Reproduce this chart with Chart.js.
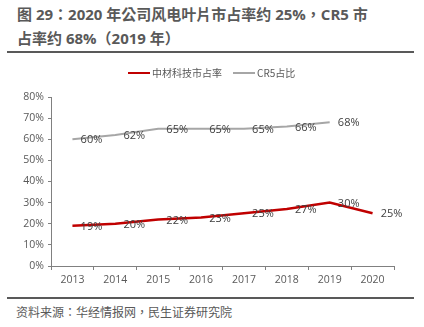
<!DOCTYPE html>
<html><head><meta charset="utf-8">
<script src="https://cdn.jsdelivr.net/npm/chart.js@4/dist/chart.umd.min.js"></script>
<style>
html,body{margin:0;padding:0;background:#fff;}
body{width:424px;height:327px;position:relative;overflow:hidden;font-family:"Open Sans","Noto Sans CJK TC",sans-serif;}
#title{position:absolute;left:17px;top:2px;width:405px;font-weight:bold;font-size:15px;line-height:24px;color:#595959;font-family:"Open Sans","Noto Sans CJK TC",sans-serif;white-space:nowrap;}
.rule{position:absolute;left:7px;width:407px;height:2px;background:#595959;}
#src{position:absolute;left:16px;top:303px;font-size:12px;color:#595959;font-family:"Noto Sans CJK TC",sans-serif;}
#wrap{position:absolute;left:0;top:55px;width:424px;height:240px;}
</style></head><body>
<div id="title">图 29：2020 年公司风电叶片市占率约 25%，CR5 市<br>占率约 68%（2019 年）</div>
<div class="rule" style="top:51px"></div>
<div id="wrap"><canvas id="c" width="424" height="240"></canvas></div>
<div class="rule" style="top:297px"></div>
<div id="src">资料来源：华经情报网，民生证券研究院</div>
<script>
const years = ["2013","2014","2015","2016","2017","2018","2019","2020"];
const sinomaShare = [19, 20, 22, 23, 25, 27, 30, 25];
const cr5Share = [60, 62, 65, 65, 65, 66, 68, null];
const seriesNames = ["中材科技市占率", "CR5占比"];

const labelPlugin = {
  id: 'pointLabels',
  afterDatasetsDraw(chart) {
    const ctx = chart.ctx;
    ctx.save();
    ctx.font = '11px "Open Sans", sans-serif';
    ctx.fillStyle = '#404040';
    ctx.textAlign = 'center';
    ctx.textBaseline = 'middle';
    chart.data.datasets.forEach((ds, i) => {
      const meta = chart.getDatasetMeta(i);
      meta.data.forEach((pt, j) => {
        const v = ds.data[j];
        if (v === null || v === undefined) return;
        ctx.fillText(v + '%', pt.x + 19, pt.y + 1);
      });
    });
    ctx.restore();
  }
};

const legendPlugin = {
  id: 'customLegend',
  afterDraw(chart) {
    const ctx = chart.ctx;
    ctx.save();
    ctx.font = '10px "Noto Sans CJK SC", sans-serif';
    ctx.textBaseline = 'middle';
    ctx.textAlign = 'left';
    const y = 18;
    const starts = [128, 233];
    chart.data.datasets.forEach((ds, i) => {
      const x = starts[i];
      ctx.strokeStyle = ds.borderColor;
      ctx.lineWidth = 2;
      ctx.beginPath();
      ctx.moveTo(x, y);
      ctx.lineTo(x + 22, y);
      ctx.stroke();
      ctx.fillStyle = '#595959';
      ctx.fillText(ds.label, x + 24, y);
    });
    ctx.restore();
  }
};

new Chart(document.getElementById('c'), {
  type: 'line',
  data: {
    labels: years,
    datasets: [
      {label: seriesNames[0], data: sinomaShare, borderColor: '#c00000', backgroundColor: '#c00000', borderWidth: 2.5, pointRadius: 0, tension: 0},
      {label: seriesNames[1], data: cr5Share, borderColor: '#a6a6a6', backgroundColor: '#a6a6a6', borderWidth: 2, pointRadius: 0, tension: 0}
    ]
  },
  options: {
    responsive: false,
    animation: false,
    devicePixelRatio: 1,
    layout: {padding: {left: 0, right: 30, top: 42, bottom: 4}},
    plugins: {
      tooltip: {enabled: false},
      legend: {display: false}
    },
    scales: {
      x: {
        offset: true,
        grid: {offset: true, drawOnChartArea: false, drawTicks: true, tickLength: 4, color: '#808080'},
        border: {color: '#808080', width: 1},
        ticks: {color: '#595959', font: {size: 10.5, family: '"Open Sans", sans-serif'}, padding: 4, maxRotation: 0},
        afterFit(s) { s.height = 25; }
      },
      y: {
        min: 0, max: 80,
        grid: {drawOnChartArea: false, drawTicks: true, tickLength: 3, color: '#808080'},
        border: {color: '#808080', width: 1},
        ticks: {stepSize: 10, color: '#595959', font: {size: 10.5, family: '"Open Sans", sans-serif'}, padding: 4, callback: v => v + '%'},
        afterFit(s) { s.width = 51; }
      }
    }
  },
  plugins: [labelPlugin, legendPlugin]
});
</script>
</body></html>
